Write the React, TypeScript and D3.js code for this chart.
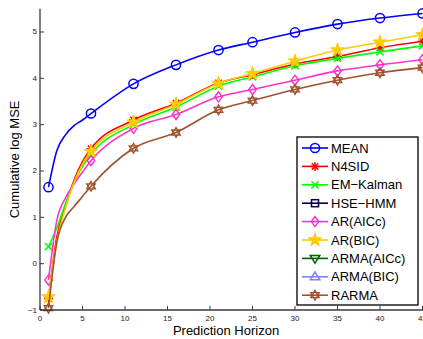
import React from "react";
import * as d3 from "d3";

const horizons = [1, 2, 3, 4, 5, 6, 11, 16, 21, 25, 30, 35, 40, 45];
const markerHorizons = [1, 6, 11, 16, 21, 25, 30, 35, 40, 45];

const meanMSE = [1.65, 2.45, 2.78, 2.98, 3.1, 3.24, 3.88, 4.29, 4.61, 4.78, 4.99, 5.17, 5.3, 5.4];
const n4sidMSE = [-0.75, 0.6, 1.25, 1.8, 2.2, 2.48, 3.1, 3.46, 3.9, 4.08, 4.31, 4.47, 4.66, 4.8];
const emKalmanMSE = [0.37, 0.78, 1.3, 1.75, 2.1, 2.36, 3.0, 3.38, 3.83, 4.03, 4.27, 4.43, 4.57, 4.7];
const hseHmmMSE: number[] = [];
const arAICcMSE = [-0.35, 0.95, 1.42, 1.72, 1.98, 2.22, 2.92, 3.22, 3.6, 3.76, 3.96, 4.16, 4.29, 4.4];
const arBICMSE = [-0.72, 0.5, 1.2, 1.75, 2.15, 2.42, 3.05, 3.44, 3.89, 4.1, 4.37, 4.61, 4.78, 4.94];
const armaAICcMSE: number[] = [];
const armaBICMSE: number[] = [];
const rarmaMSE = [-0.96, 0.48, 1.0, 1.23, 1.45, 1.67, 2.49, 2.83, 3.32, 3.52, 3.76, 3.96, 4.12, 4.23];

const seriesNames = ["MEAN", "N4SID", "EM\u2212Kalman", "HSE\u2212HMM", "AR(AICc)", "AR(BIC)", "ARMA(AICc)", "ARMA(BIC)", "RARMA"];
const seriesValues = [meanMSE, n4sidMSE, emKalmanMSE, hseHmmMSE, arAICcMSE, arBICMSE, armaAICcMSE, armaBICMSE, rarmaMSE];
const seriesColors = ["#0000ff", "#ff0000", "#00ff00", "#000040", "#ff33cc", "#ffcc00", "#006400", "#8080ff", "#a0522d"];
const seriesMarkers = ["circle", "asterisk", "cross", "square", "diamond", "pentagram", "triangleDown", "triangleUp", "hexagram"];

const xTicks = [0, 5, 10, 15, 20, 25, 30, 35, 40, 45];
const yTicks = [-1, 0, 1, 2, 3, 4, 5];

const W = 423;
const H = 339;
const left = 40;
const right = 422.5;
const top = 8.8;
const bottom = 310;
const FONT = "'Liberation Sans', Arial, Helvetica, sans-serif";

function Marker({ kind, x, y, color }: { kind: string; x: number; y: number; color: string }) {
  const sw = 1.5;
  switch (kind) {
    case "circle":
      return <circle cx={x} cy={y} r={4.6} fill="none" stroke={color} strokeWidth={sw} />;
    case "asterisk": {
      const r = 4.5;
      const d = r * 0.72;
      return (
        <g stroke={color} strokeWidth={sw}>
          <line x1={x - r} y1={y} x2={x + r} y2={y} />
          <line x1={x} y1={y - r} x2={x} y2={y + r} />
          <line x1={x - d} y1={y - d} x2={x + d} y2={y + d} />
          <line x1={x - d} y1={y + d} x2={x + d} y2={y - d} />
        </g>
      );
    }
    case "cross": {
      const d = 3.6;
      return (
        <g stroke={color} strokeWidth={sw}>
          <line x1={x - d} y1={y - d} x2={x + d} y2={y + d} />
          <line x1={x - d} y1={y + d} x2={x + d} y2={y - d} />
        </g>
      );
    }
    case "square":
      return <rect x={x - 3.5} y={y - 3.5} width={7} height={7} fill="none" stroke={color} strokeWidth={sw} />;
    case "diamond": {
      const r = 5;
      return <path d={`M${x},${y - r}L${x + r * 0.75},${y}L${x},${y + r}L${x - r * 0.75},${y}Z`} fill="none" stroke={color} strokeWidth={sw} />;
    }
    case "pentagram": {
      const p = d3.symbol().type(d3.symbolStar).size(58)();
      return <path d={p || ""} transform={`translate(${x},${y})`} fill={color} stroke={color} strokeWidth={1} />;
    }
    case "triangleDown": {
      const r = 4.8;
      return <path d={`M${x - r},${y - r * 0.6}L${x + r},${y - r * 0.6}L${x},${y + r}Z`} fill="none" stroke={color} strokeWidth={sw} />;
    }
    case "triangleUp": {
      const r = 4.8;
      return <path d={`M${x - r},${y + r * 0.6}L${x + r},${y + r * 0.6}L${x},${y - r}Z`} fill="none" stroke={color} strokeWidth={sw} />;
    }
    case "hexagram": {
      const r = 5;
      const t1 = [0, 1, 2].map((i) => {
        const a = -Math.PI / 2 + (i * 2 * Math.PI) / 3;
        return `${x + r * Math.cos(a)},${y + r * Math.sin(a)}`;
      });
      const t2 = [0, 1, 2].map((i) => {
        const a = Math.PI / 2 + (i * 2 * Math.PI) / 3;
        return `${x + r * Math.cos(a)},${y + r * Math.sin(a)}`;
      });
      return (
        <g fill="none" stroke={color} strokeWidth={1.3}>
          <path d={`M${t1.join("L")}Z`} />
          <path d={`M${t2.join("L")}Z`} />
        </g>
      );
    }
    default:
      return null;
  }
}

export default function App() {
  const x = d3.scaleLinear().domain([0, 45]).range([left, right]);
  const y = d3.scaleLinear().domain([-1, 5.5]).range([bottom, top]);
  const line = d3
    .line<[number, number]>()
    .x((d) => x(d[0]))
    .y((d) => y(d[1]))
    .curve(d3.curveMonotoneX);

  const axisColor = "#3a3a3a";
  const legX = 297;
  const legY = 137;
  const legW = 121;
  const legH = 168;
  const rowH = 18.4;

  return (
    <svg width={W} height={H} style={{ position: "absolute", left: 0, top: 0, background: "#fff" }} fontFamily={FONT}>
      <rect width={W} height={H} fill="#fff" />
      {seriesValues.map((vals, si) => {
        if (!vals.length) return null;
        const pts = vals.map((v, i) => [horizons[i], v] as [number, number]);
        return (
          <g key={si}>
            <path d={line(pts) || ""} fill="none" stroke={seriesColors[si]} strokeWidth={1.6} />
            {pts
              .filter((p) => markerHorizons.includes(p[0]))
              .map((p, i) => (
                <Marker key={i} kind={seriesMarkers[si]} x={x(p[0])} y={y(p[1])} color={seriesColors[si]} />
              ))}
          </g>
        );
      })}

      {/* axes */}
      <line x1={left} y1={top} x2={left} y2={bottom} stroke={axisColor} strokeWidth={1.3} />
      <line x1={left} y1={bottom} x2={W} y2={bottom} stroke={axisColor} strokeWidth={1.3} />
      {yTicks.map((t) => (
        <g key={t}>
          <line x1={left} y1={y(t)} x2={left + 4} y2={y(t)} stroke={axisColor} strokeWidth={1} />
          <text x={left - 3} y={y(t)} textAnchor="end" dominantBaseline="central" fontSize={8} fill="#222">
            {t === -1 ? "\u22121" : t}
          </text>
        </g>
      ))}
      {xTicks.map((t) => (
        <g key={t}>
          <line x1={x(t)} y1={bottom} x2={x(t)} y2={bottom - 4} stroke={axisColor} strokeWidth={1} />
          <text x={x(t)} y={bottom + 11} textAnchor="middle" fontSize={8} fill="#222">
            {t}
          </text>
        </g>
      ))}
      <text x={226} y={335} textAnchor="middle" fontSize={13} fill="#000">
        Prediction Horizon
      </text>
      <text transform={`translate(19,${(top + bottom) / 2}) rotate(-90)`} textAnchor="middle" fontSize={13} fill="#000">
        Cumulative log MSE
      </text>

      {/* legend */}
      <rect x={legX} y={legY} width={legW} height={legH} fill="#fff" stroke="#000" strokeWidth={1.3} />
      {seriesNames.map((name, i) => {
        const cy = legY + 11 + i * rowH;
        return (
          <g key={name}>
            <line x1={legX + 5} y1={cy} x2={legX + 31} y2={cy} stroke={seriesColors[i]} strokeWidth={1.6} />
            <Marker kind={seriesMarkers[i]} x={legX + 18} y={cy} color={seriesColors[i]} />
            <text x={legX + 34} y={cy} dominantBaseline="central" fontSize={13} fill="#000">
              {name}
            </text>
          </g>
        );
      })}
    </svg>
  );
}
